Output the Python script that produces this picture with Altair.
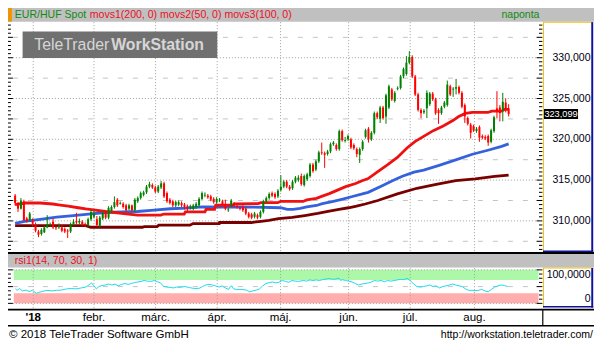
import altair as alt
import pandas as pd

# ---------------- data ----------------
opens = [313.1, 312.2, 311.5, 312.4, 310.3, 310.1, 310.1, 309.5, 308.7, 308.4,
         308.6, 309.2, 309.5, 309.9, 309.2, 309.2, 309.2, 309.0, 308.8, 308.7,
         309.6, 310.0, 309.8, 309.9, 309.6, 309.5, 310.2, 310.5, 310.2, 309.4,
         310.3, 311.1, 310.4, 311.2, 311.7, 312.6, 312.1, 312.1, 311.9, 311.5,
         311.9, 311.3, 312.4, 312.8, 313.2, 313.5, 314.2, 314.4, 314.1, 313.6,
         314.1, 314.6, 313.4, 312.6, 312.4, 311.9, 312.0, 312.2, 312.0, 311.8,
         311.6, 311.5, 311.7, 311.9, 312.7, 313.1, 313.1, 313.0, 312.7, 312.3,
         312.5, 312.4, 312.0, 311.3, 311.9, 312.1, 311.8, 311.6, 311.7, 311.5,
         310.9, 310.8, 310.5, 310.7, 310.5, 311.1, 312.4, 312.8, 313.4, 313.3,
         313.0, 313.8, 314.2, 314.8, 314.2, 314.0, 314.8, 315.0, 315.5, 314.4,
         315.1, 315.5, 316.9, 316.3, 317.3, 318.4, 318.3, 318.2, 318.5, 319.4,
         319.3, 318.8, 321.0, 319.8, 320.0, 320.0, 319.3, 318.8, 318.1, 318.8,
         320.3, 321.3, 320.0, 320.8, 323.2, 322.5, 323.9, 322.8, 323.9, 326.1,
         324.7, 326.2, 326.3, 327.7, 328.0, 329.4, 330.1, 327.7, 325.5, 323.6,
         323.3, 323.8, 324.3, 325.6, 324.9, 323.6, 323.2, 324.0, 324.2, 326.5,
         326.1, 326.2, 326.4, 325.7, 324.2, 322.6, 321.8, 321.6, 321.0, 321.5,
         320.4, 320.3, 320.4, 319.7, 321.0, 323.8, 323.9, 323.6, 324.5, 323.8]
highs = [313.3, 312.3, 312.8, 312.6, 310.5, 311.1, 310.3, 309.8, 308.9, 309.1,
         309.4, 310.7, 309.8, 310.3, 309.4, 309.7, 309.5, 309.2, 309.0, 309.8,
         310.2, 311.0, 310.3, 310.1, 309.8, 310.4, 311.3, 311.2, 310.6, 310.6,
         311.2, 311.3, 311.8, 311.9, 313.0, 312.8, 312.4, 312.3, 312.1, 312.1,
         312.0, 312.8, 313.0, 313.6, 313.7, 314.4, 314.8, 314.6, 314.3, 314.4,
         314.9, 314.8, 313.6, 312.8, 312.6, 312.5, 312.5, 312.4, 312.2, 312.0,
         312.0, 312.1, 312.3, 312.9, 313.6, 313.5, 313.3, 313.2, 312.9, 312.9,
         312.8, 312.6, 312.6, 311.6, 312.7, 312.3, 312.0, 311.8, 311.9, 311.7,
         311.1, 311.0, 311.1, 310.9, 311.3, 312.6, 313.0, 313.5, 313.6, 313.5,
         313.9, 315.6, 315.0, 315.0, 314.4, 315.0, 315.5, 315.6, 315.8, 315.7,
         315.9, 317.1, 317.1, 317.5, 318.6, 319.6, 318.5, 318.7, 319.6, 319.8,
         319.5, 321.2, 321.2, 320.3, 320.6, 320.2, 319.5, 319.0, 319.0, 319.9,
         321.3, 321.5, 321.0, 323.4, 323.4, 324.1, 324.1, 325.6, 326.7, 326.3,
         325.9, 326.5, 327.9, 328.8, 330.2, 330.8, 330.3, 327.9, 325.7, 323.8,
         323.7, 326.0, 325.8, 325.8, 325.1, 323.8, 324.1, 324.7, 327.2, 326.7,
         326.4, 327.4, 326.6, 325.9, 324.4, 322.8, 322.0, 321.8, 321.5, 321.7,
         320.6, 320.5, 320.6, 321.3, 322.9, 325.9, 324.2, 325.7, 325.0, 324.3]
lows = [311.9, 311.1, 311.4, 310.0, 309.8, 309.9, 309.3, 308.6, 308.0, 308.2,
        308.5, 309.1, 309.3, 309.0, 308.9, 309.0, 308.6, 308.5, 307.9, 308.5,
        309.4, 309.6, 309.6, 309.4, 309.3, 309.3, 310.0, 310.3, 309.3, 309.2,
        310.1, 310.2, 310.2, 311.0, 311.5, 311.7, 312.0, 311.5, 311.1, 311.3,
        311.1, 311.1, 312.2, 312.6, 313.0, 313.3, 314.0, 313.9, 313.4, 313.4,
        313.9, 312.8, 312.2, 312.0, 311.7, 311.7, 311.8, 311.7, 311.4, 311.2,
        311.4, 311.3, 311.5, 311.7, 312.5, 312.9, 312.7, 312.4, 312.1, 312.1,
        312.3, 311.8, 311.3, 311.1, 311.7, 311.7, 311.5, 311.3, 311.1, 310.7,
        310.3, 310.2, 310.3, 310.2, 310.3, 310.9, 312.2, 312.6, 312.9, 312.7,
        312.8, 313.6, 314.0, 314.0, 313.7, 313.8, 314.6, 314.8, 314.3, 314.2,
        314.9, 315.3, 315.9, 316.1, 317.1, 318.1, 316.5, 318.0, 318.3, 319.2,
        318.6, 318.6, 319.7, 319.6, 319.8, 318.8, 318.7, 317.8, 317.1, 318.6,
        320.1, 319.6, 319.8, 320.6, 322.5, 322.0, 322.4, 321.9, 323.7, 324.7,
        324.5, 326.0, 326.1, 327.5, 327.8, 329.2, 327.5, 325.3, 323.4, 322.6,
        323.1, 322.6, 324.1, 324.7, 323.0, 321.9, 323.0, 323.8, 324.0, 325.3,
        325.2, 325.5, 325.5, 323.8, 322.0, 321.7, 320.1, 320.9, 320.8, 319.7,
        320.0, 319.9, 319.2, 319.5, 320.8, 322.6, 322.2, 322.2, 323.3, 322.8]
closes = [312.2, 311.5, 312.5, 310.1, 310.0, 310.9, 309.7, 308.8, 308.3, 308.9,
          309.2, 309.6, 309.6, 309.2, 309.1, 309.4, 308.8, 308.7, 308.7, 309.6,
          309.9, 309.8, 310.0, 309.6, 309.5, 310.2, 311.1, 310.9, 309.5, 310.4,
          311.0, 310.4, 311.6, 311.7, 312.3, 311.9, 312.2, 311.7, 311.3, 311.9,
          311.3, 312.6, 312.8, 313.4, 313.5, 314.2, 314.5, 314.1, 313.6, 314.2,
          314.6, 313.0, 312.4, 312.2, 311.9, 312.3, 312.3, 311.9, 311.7, 311.5,
          311.8, 311.9, 312.1, 312.7, 313.4, 313.2, 312.9, 312.6, 312.3, 312.7,
          312.6, 312.0, 311.5, 311.4, 312.5, 311.9, 311.7, 311.5, 311.3, 310.9,
          310.5, 310.4, 310.9, 310.4, 311.1, 312.4, 312.8, 313.3, 313.1, 312.9,
          313.7, 314.2, 314.8, 314.2, 313.9, 314.8, 315.3, 315.3, 314.5, 315.5,
          315.7, 316.9, 316.1, 317.3, 318.4, 318.3, 318.1, 318.5, 319.4, 319.6,
          318.8, 321.0, 319.9, 319.9, 320.4, 319.0, 318.9, 318.2, 318.8, 319.7,
          321.1, 320.0, 320.8, 323.2, 322.7, 323.9, 322.6, 325.4, 326.5, 324.9,
          325.7, 326.3, 327.7, 328.6, 329.4, 330.1, 327.7, 325.5, 323.6, 323.2,
          323.5, 325.7, 325.6, 324.9, 323.2, 323.2, 323.9, 324.5, 326.7, 325.5,
          326.2, 326.4, 325.7, 324.0, 322.8, 321.9, 320.8, 321.1, 321.3, 320.2,
          320.2, 320.1, 319.6, 321.1, 322.7, 323.4, 323.2, 324.6, 323.7, 323.1]

# moving averages (knots: candle index, value)
ma50_idx = [0, 3.6, 8.6, 12.9, 14.9, 18.2, 21.6, 24.2, 26.9, 30.9, 34.2, 41.9, 49.9, 50.9,
            57.9, 58.3, 65.0, 65.4, 68.3, 68.7, 74.6, 75.0, 83.2, 84.2, 89.9, 90.9, 98.6,
            99.9, 103.2, 105.2, 107.6, 110.2, 113.2, 116.6, 118.6, 120.9, 124.2, 127.6,
            130.9, 134.2, 136.9, 139.9, 143.2, 146.6, 149.9, 151.9, 154.2, 156.6, 161.9,
            163.2, 166.6, 167.6, 169]
ma50_val = [312.0, 312.19, 312.19, 312.07, 311.96, 311.80, 311.61, 311.46, 311.34, 311.15,
            311.03, 310.71, 310.71, 310.84, 310.84, 311.11, 311.11, 311.42, 311.42, 311.92,
            311.92, 312.07, 312.12, 312.23, 312.23, 312.38, 312.38, 312.58, 312.76, 313.04,
            313.34, 313.74, 314.20, 314.58, 314.89, 315.19, 316.05, 316.89, 317.78, 318.94,
            319.71, 320.36, 321.06, 321.64, 322.30, 322.79, 323.18, 323.29, 323.29, 323.45,
            323.45, 323.68, 323.68]
ma100_idx = [0, 3.2, 8.6, 14.2, 19.9, 25.2, 30.9, 36.6, 41.9, 47.6, 53.2, 58.6, 64.2, 80.9,
             90.9, 93.2, 95.2, 97.6, 99.9, 103.2, 105.2, 108.6, 111.9, 115.2, 118.6, 120.9,
             125.9, 129.2, 132.6, 136.6, 139.9, 145.2, 150.9, 156.6, 161.9, 166.6, 169]
ma100_val = [309.69, 309.95, 310.18, 310.45, 310.65, 310.84, 311.03, 311.11, 311.15, 311.31,
             311.49, 311.57, 311.72, 311.69, 311.61, 311.42, 311.42, 311.54, 311.72, 311.89,
             312.12, 312.35, 312.65, 312.96, 313.27, 313.50, 314.35, 314.93, 315.47, 315.97,
             316.23, 316.81, 317.47, 318.17, 318.66, 319.13, 319.44]
ma200_idx = [0, 24.2, 25.9, 43.6, 44.2, 48.6, 49.2, 59.9, 60.9, 69.9, 70.0, 80.9, 84.2,
             86.9, 90.2, 94.9, 99.2, 103.6, 107.6, 110.9, 114.2, 116.9, 119.9, 124.2, 130.9,
             137.6, 144.2, 150.9, 157.6, 164.2, 169]
ma200_val = [309.41, 309.41, 309.22, 309.22, 309.29, 309.29, 309.47, 309.47, 309.67, 309.67,
             309.80, 309.80, 309.95, 310.07, 310.27, 310.42, 310.65, 310.91, 311.19, 311.42,
             311.61, 311.80, 312.07, 312.50, 313.31, 314.00, 314.47, 314.93, 315.16, 315.45,
             315.62]

# RSI(14)
rsi_idx = [0.1, 0.7, 1.5, 2.6, 3.7, 4.8, 5.9, 7.3, 8.1, 9.2, 10.9, 12.6, 14.2, 15.9, 17.6,
           19.2, 20.9, 22.6, 24.2, 25.3, 26.2, 27.0, 27.8, 28.7, 29.8, 30.9, 32.0, 33.1, 34.2,
           35.3, 36.5, 37.6, 38.7, 39.8, 40.9, 42.0, 43.1, 44.2, 45.3, 46.5, 47.6, 48.7, 49.8,
           50.9, 52.0, 53.1, 54.2, 55.3, 56.5, 58.1, 59.8, 61.5, 63.1, 64.2, 65.3, 66.4, 67.6,
           68.7, 69.8, 70.9, 72.0, 73.1, 73.7, 74.2, 74.8, 75.9, 77.6, 79.2, 80.3, 81.4, 82.6,
           83.7, 84.8, 85.9, 87.0, 88.1, 89.2, 90.3, 91.5, 92.6, 93.7, 94.8, 95.9, 97.0, 98.7,
           99.8, 100.9, 102.0, 103.1, 104.2, 105.3, 106.5, 107.6, 108.7, 109.8, 110.9, 111.5,
           112.0, 113.1, 114.2, 115.4, 116.5, 117.6, 118.7, 119.8, 120.9, 122.0, 123.1, 124.2,
           125.3, 126.5, 127.6, 128.7, 129.8, 130.9, 132.0, 133.1, 134.2, 135.3, 136.5, 137.6,
           138.7, 139.8, 140.9, 142.0, 143.1, 144.2, 145.3, 146.5, 147.6, 148.7, 149.8, 150.9,
           152.0, 153.1, 154.2, 155.3, 156.5, 157.6, 158.7, 159.8, 160.9, 162.0, 163.1, 164.2,
           165.3, 166.5, 167.6, 168.7]
rsi_val = [43.3, 38.9, 44.2, 37.1, 39.8, 35.3, 38.9, 30.0, 32.7, 35.3, 38.9, 37.1, 38.9, 39.8,
           43.3, 44.2, 43.3, 46.0, 48.7, 54.9, 61.1, 52.2, 43.3, 50.4, 53.1, 54.9, 57.6, 54.9,
           57.6, 52.2, 56.7, 59.3, 56.7, 59.3, 62.0, 63.8, 65.6, 68.2, 66.4, 65.6, 68.2, 64.7,
           61.1, 50.4, 48.7, 47.8, 46.0, 48.7, 47.8, 50.4, 46.9, 44.2, 45.1, 50.4, 54.9, 56.7,
           54.9, 52.2, 48.7, 52.2, 46.0, 41.6, 50.4, 52.2, 43.3, 41.6, 41.6, 39.8, 34.4, 37.1,
           39.8, 43.3, 52.2, 59.3, 62.0, 63.8, 61.1, 62.9, 68.2, 65.6, 62.9, 68.2, 66.4, 65.6,
           68.2, 66.4, 70.0, 68.2, 70.0, 68.2, 70.9, 72.7, 74.4, 71.8, 72.7, 75.3, 68.2, 70.9,
           68.2, 66.4, 63.8, 59.3, 54.9, 57.6, 59.3, 61.1, 63.8, 68.2, 66.4, 68.2, 64.7, 68.2,
           66.4, 68.2, 70.0, 71.8, 70.9, 74.4, 68.2, 57.6, 50.4, 48.7, 50.4, 52.2, 54.9, 50.4,
           52.2, 46.0, 50.4, 52.2, 54.9, 57.6, 54.9, 52.2, 50.4, 43.3, 38.9, 38.9, 38.0, 38.9,
           41.6, 37.1, 34.4, 41.6, 48.7, 52.2, 54.9, 53.1, 50.4]

price_ticks = [310, 315, 320, 325, 330]
price_tick_labels = ["310,000", "315,000", "320,000", "325,000", "330,000"]
price_half = [307.5, 312.5, 317.5, 322.5, 327.5, 332.5]
last_price = 323.099
last_label = "323,099"
month_pos = [6.2, 27.0, 48.1, 69.2, 90.9, 114.2, 135.3, 157.3]
month_labels = ["'18", "febr.", "márc.", "ápr.", "máj.", "jún.", "júl.", "aug."]

# ---------------- layout helpers ----------------
W, H = 586, 335
SX, SY = W / 602.0, H / 355.0
FS = (SX + SY) / 2
FONT = "Liberation Sans"


def X(v):
    return round(v * SX, 2)


def Y(v):
    return round(v * SY, 2)


xs = alt.Scale(domain=[0, 169], range=[X(7.3), X(514.3)], zero=False, nice=False)
ps = alt.Scale(domain=[310, 330], range=[Y(225.6), Y(52.7)], zero=False, nice=False)
rs = alt.Scale(domain=[0, 100], range=[Y(313), Y(277.5)], zero=False, nice=False)

ONE = alt.Data(values=[{"a": 1}])


def rect(x1, y1, x2, y2, color):
    return alt.Chart(ONE).mark_rect(color=color).encode(
        x=alt.value(X(x1)), x2=alt.value(X(x2)), y=alt.value(Y(y1)), y2=alt.value(Y(y2)))


def label(x, y, s, color="black", size=11, align="left", weight="normal"):
    return alt.Chart(ONE).mark_text(
        text=s, color=color, fontSize=round(size * FS, 2), align=align,
        baseline="middle", font=FONT, fontWeight=weight).encode(
        x=alt.value(X(x)), y=alt.value(Y(y)))


def hrules(vals, scale, x1, x2, color, dash=None, width=1):
    kw = dict(color=color, strokeWidth=width)
    if dash:
        kw["strokeDash"] = dash
    return alt.Chart(pd.DataFrame({"v": vals})).mark_rule(**kw).encode(
        x=alt.value(X(x1)), x2=alt.value(X(x2)),
        y=alt.Y("v:Q", scale=scale, axis=None))


layers = []

# RSI bands
band_df = pd.DataFrame({"lo": [70, 0], "hi": [100, 30], "col": ["#adf7a9", "#ffadad"]})
layers.append(alt.Chart(band_df).mark_rect().encode(
    x=alt.value(X(6)), x2=alt.value(X(545)),
    y=alt.Y("lo:Q", scale=rs, axis=None), y2="hi:Q",
    color=alt.Color("col:N", scale=None)))

# grid
layers.append(hrules(price_ticks, ps, 5, 545, "#a0a0a0", [1, 2]))
layers.append(hrules(price_half, ps, 5, 545, "#c4c4c4", [5, 10]))
layers.append(hrules([0, 100], rs, 5, 545, "#a0a0a0", [1, 2]))
layers.append(hrules([50], rs, 5, 545, "#c4c4c4", [5, 10]))
layers.append(alt.Chart(pd.DataFrame({"m": month_pos})).mark_rule(
    color="#a0a0a0", strokeDash=[1, 2], strokeWidth=1).encode(
    x=alt.X("m:Q", scale=xs, axis=None), y=alt.value(Y(15)), y2=alt.value(Y(320))))

# header bars and separators
layers.append(rect(0, 0, 602, 14.5, "#c0c0c0"))
layers.append(rect(0, 0, 4, 14.5, "#f29300"))
layers.append(rect(0, 258.5, 602, 261, "#000000"))
layers.append(rect(0, 261, 602, 275, "#c0c0c0"))
layers.append(rect(0, 318.8, 602, 320.6, "#000000"))
layers.append(rect(0, 336, 602, 337.4, "#000000"))
layers.append(rect(548.8, 320, 550, 337, "#000000"))

# watermark
layers.append(rect(15, 25, 215, 53, "#707070"))
layers.append(label(27, 39.5, "TeleTrader", "#d6d6d6", 16.5))
layers.append(label(106, 39.5, "WorkStation", "#d6d6d6", 16.5, weight="bold"))

# moving averages
for idx, vals, col in [(ma200_idx, ma200_val, "#7a0000"),
                       (ma100_idx, ma100_val, "#3561dc"),
                       (ma50_idx, ma50_val, "#ee1111")]:
    layers.append(alt.Chart(pd.DataFrame({"k": idx, "v": vals})).mark_line(
        color=col, strokeWidth=2.8).encode(
        x=alt.X("k:Q", scale=xs, axis=None), y=alt.Y("v:Q", scale=ps, axis=None)))

# candles
cdf = pd.DataFrame({"k": list(range(len(closes))), "o": opens, "h": highs, "l": lows, "c": closes})
cdf["col"] = ["#008000" if c >= o else "#ff0000" for o, c in zip(opens, closes)]
layers.append(alt.Chart(cdf).mark_rule(strokeWidth=1).encode(
    x=alt.X("k:Q", scale=xs, axis=None), y=alt.Y("l:Q", scale=ps, axis=None), y2="h:Q",
    color=alt.Color("col:N", scale=None)))
layers.append(alt.Chart(cdf).mark_rule(strokeWidth=2).encode(
    x=alt.X("k:Q", scale=xs, axis=None), y=alt.Y("o:Q", scale=ps, axis=None), y2="c:Q",
    color=alt.Color("col:N", scale=None)))

# RSI line
layers.append(alt.Chart(pd.DataFrame({"k": rsi_idx, "r": rsi_val})).mark_line(
    color="#1adcf0", strokeWidth=1).encode(
    x=alt.X("k:Q", scale=xs, axis=None), y=alt.Y("r:Q", scale=rs, axis=None)))

# right axis panels
for top, bot in [(15, 258.5), (275.5, 317.5)]:
    layers.append(rect(550, top, 601, bot, "#ffffff"))
    layers.append(rect(549.6, top, 550.6, bot, "#eec21a"))
    layers.append(rect(549.6, top - 0.5, 601, top + 0.5, "#eec21a"))
    layers.append(rect(599.2, top, 601.2, bot, "#10109a"))
    layers.append(rect(549.6, bot - 1.6, 601.2, bot, "#10109a"))

# ticks
minor_p = [round(306.5 + 0.5 * i, 1) for i in range(56)]
major_p = [v for v in minor_p if v % 2.5 == 0]
minor_p = [v for v in minor_p if v % 2.5 != 0]
layers.append(hrules(minor_p, ps, 545.5, 549, "#000000"))
layers.append(hrules(major_p, ps, 543, 549, "#000000"))
layers.append(hrules(minor_p, ps, 0, 3, "#000000"))
layers.append(hrules(major_p, ps, 0, 5, "#000000"))
rsi_minor = [12.5, 25, 37.5, 62.5, 75, 87.5]
rsi_major = [0, 50, 100]
layers.append(hrules(rsi_minor, rs, 545.5, 549, "#000000"))
layers.append(hrules(rsi_major, rs, 543, 549, "#000000"))
layers.append(hrules(rsi_minor, rs, 0, 3, "#000000"))
layers.append(hrules(rsi_major, rs, 0, 5, "#000000"))

# price labels
layers.append(alt.Chart(pd.DataFrame({"v": price_ticks, "t": price_tick_labels})).mark_text(
    align="right", baseline="middle", fontSize=round(11 * FS, 2), font=FONT, color="#000010").encode(
    x=alt.value(X(598.5)), y=alt.Y("v:Q", scale=ps, axis=None), text="t:N"))

# last price box
lp = alt.Chart(pd.DataFrame({"p": [last_price], "t": [last_label]})).transform_calculate(
    top="datum.p + 0.62", bot="datum.p - 0.62")
layers.append(lp.mark_rect(color="#000000").encode(
    x=alt.value(X(550.6)), x2=alt.value(X(585.6)),
    y=alt.Y("top:Q", scale=ps, axis=None), y2="bot:Q"))
layers.append(lp.mark_text(align="center", baseline="middle", fontSize=round(9.6 * FS, 2),
                           font=FONT, color="#ffffff").encode(
    x=alt.value(X(568.1)), y=alt.Y("p:Q", scale=ps, axis=None), text="t:N"))

# RSI labels
layers.append(alt.Chart(pd.DataFrame({"r": [100], "t": ["100,0000"]})).mark_text(
    align="right", baseline="top", fontSize=round(11 * FS, 2), font=FONT, color="#000010", dy=0).encode(
    x=alt.value(X(598.5)), y=alt.Y("r:Q", scale=rs, axis=None), text="t:N"))
layers.append(alt.Chart(pd.DataFrame({"r": [0], "t": ["0"]})).mark_text(
    align="right", baseline="bottom", fontSize=round(11 * FS, 2), font=FONT, color="#000010", dy=1).encode(
    x=alt.value(X(598.5)), y=alt.Y("r:Q", scale=rs, axis=None), text="t:N"))

# month labels
mdf = pd.DataFrame({"m": month_pos, "t": month_labels})
layers.append(alt.Chart(mdf.iloc[:1]).mark_text(
    align="center", baseline="middle", fontSize=round(12 * FS, 2), font=FONT, fontWeight="bold").encode(
    x=alt.X("m:Q", scale=xs, axis=None), y=alt.value(Y(328)), text="t:N"))
layers.append(alt.Chart(mdf.iloc[1:]).mark_text(
    align="center", baseline="middle", fontSize=round(12 * FS, 2), font=FONT).encode(
    x=alt.X("m:Q", scale=xs, axis=None), y=alt.value(Y(328)), text="t:N"))

# header texts
layers.append(label(7, 7.5, "EUR/HUF Spot", "#138a13", 11))
layers.append(label(84, 7.5, "movs1(200, 0) movs2(50, 0) movs3(100, 0)", "#ec1026", 11))
layers.append(label(546, 7.5, "naponta", "#138a13", 11, align="right"))
layers.append(label(7, 268.5, "rsi1(14, 70, 30, 1)", "#ec1026", 11))

# footer
layers.append(label(1, 346, "© 2018 TeleTrader Software GmbH", "#000000", 12))
layers.append(label(601, 346, "http://workstation.teletrader.com/", "#000000", 11, align="right"))

chart = alt.layer(*layers).resolve_scale(y="independent").properties(
    width=W, height=H, padding=0, background="white",
    autosize=alt.AutoSizeParams(type="none")
).configure_view(stroke=None)

chart.save("out.html", embed_options={"renderer": "svg", "actions": False})
